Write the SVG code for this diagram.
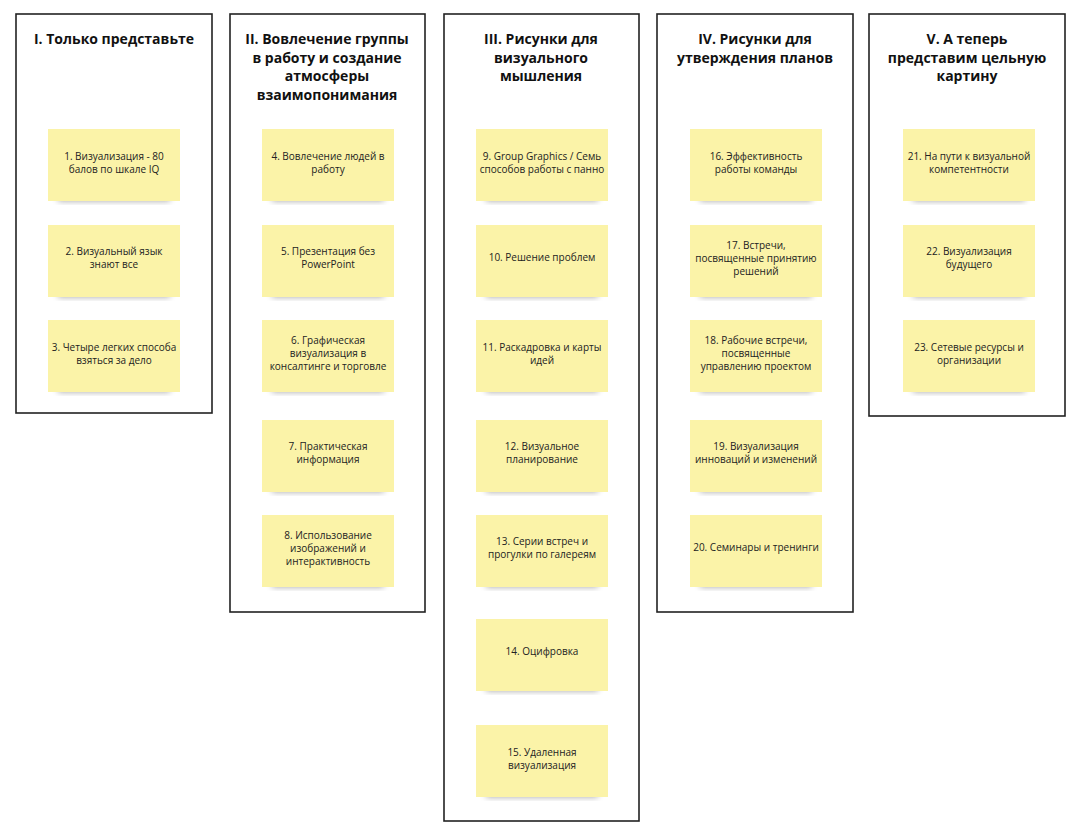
<svg xmlns="http://www.w3.org/2000/svg" width="1080" height="835" viewBox="0 0 1080 835">
<style>
.f{fill:#fff;stroke:#222;stroke-width:1.6}
.s{fill:#fbf3a8}
.sh{fill:#000;opacity:0.35;filter:url(#b)}
.t{font-family:"Open Sans","Liberation Sans",sans-serif;font-weight:bold;font-size:14px;fill:#111;text-anchor:middle}
.n{font-family:"Open Sans","Liberation Sans",sans-serif;font-size:10px;fill:#222;text-anchor:middle}
</style>
<defs>
<filter id="b" x="-20%" y="-50%" width="140%" height="200%"><feGaussianBlur stdDeviation="3"/></filter>
<g id="st"><rect class="sh" x="10" y="64" width="112" height="8"/><rect class="s" width="132" height="72"/></g>
</defs>
<rect width="1080" height="835" fill="#fff"/>
<g id="frames">
<rect class="f" x="16" y="14" width="196" height="399"/>
<rect class="f" x="230" y="14" width="195" height="598"/>
<rect class="f" x="444" y="14" width="195" height="807"/>
<rect class="f" x="657" y="14" width="196" height="598"/>
<rect class="f" x="869" y="14" width="196" height="402"/>
</g>
<g id="titles">
<text class="t" x="114" y="44">I. Только представьте</text>
<text class="t" x="327" y="44">II. Вовлечение группы<tspan x="327" dy="18.5">в работу и создание</tspan><tspan x="327" dy="18.5">атмосферы</tspan><tspan x="327" dy="18.5">взаимопонимания</tspan></text>
<text class="t" x="541" y="44">III. Рисунки для<tspan x="541" dy="18.5">визуального</tspan><tspan x="541" dy="18.5">мышления</tspan></text>
<text class="t" x="755" y="44">IV. Рисунки для<tspan x="755" dy="18.5">утверждения планов</tspan></text>
<text class="t" x="967" y="44">V. А теперь<tspan x="967" dy="18.5">представим цельную</tspan><tspan x="967" dy="18.5">картину</tspan></text>
</g>
<g id="n1"><use href="#st" x="48" y="129"/><text class="n" x="114" y="160">1. Визуализация - 80<tspan x="114" dy="13">балов по шкале IQ</tspan></text></g>
<g id="n2"><use href="#st" x="48" y="225"/><text class="n" x="114" y="255">2. Визуальный язык<tspan x="114" dy="13">знают все</tspan></text></g>
<g id="n3"><use href="#st" x="48" y="320"/><text class="n" x="114" y="351">3. Четыре легких способа<tspan x="114" dy="13">взяться за дело</tspan></text></g>
<g id="n4"><use href="#st" x="262" y="129"/><text class="n" x="328" y="160">4. Вовлечение людей в<tspan x="328" dy="13">работу</tspan></text></g>
<g id="n5"><use href="#st" x="262" y="225"/><text class="n" x="328" y="255">5. Презентация без<tspan x="328" dy="13">PowerPoint</tspan></text></g>
<g id="n6"><use href="#st" x="262" y="320"/><text class="n" x="328" y="344">6. Графическая<tspan x="328" dy="13">визуализация в</tspan><tspan x="328" dy="13">консалтинге и торговле</tspan></text></g>
<g id="n7"><use href="#st" x="262" y="420"/><text class="n" x="328" y="450">7. Практическая<tspan x="328" dy="13">информация</tspan></text></g>
<g id="n8"><use href="#st" x="262" y="515"/><text class="n" x="328" y="539">8. Использование<tspan x="328" dy="13">изображений и</tspan><tspan x="328" dy="13">интерактивность</tspan></text></g>
<g id="n9"><use href="#st" x="476" y="129"/><text class="n" x="542" y="160">9. Group Graphics / Семь<tspan x="542" dy="13">способов работы с панно</tspan></text></g>
<g id="n10"><use href="#st" x="476" y="225"/><text class="n" x="542" y="261">10. Решение проблем</text></g>
<g id="n11"><use href="#st" x="476" y="320"/><text class="n" x="542" y="351">11. Раскадровка и карты<tspan x="542" dy="13">идей</tspan></text></g>
<g id="n12"><use href="#st" x="476" y="420"/><text class="n" x="542" y="450">12. Визуальное<tspan x="542" dy="13">планирование</tspan></text></g>
<g id="n13"><use href="#st" x="476" y="515"/><text class="n" x="542" y="545">13. Серии встреч и<tspan x="542" dy="13">прогулки по галереям</tspan></text></g>
<g id="n14"><use href="#st" x="476" y="619"/><text class="n" x="542" y="655">14. Оцифровка</text></g>
<g id="n15"><use href="#st" x="476" y="725"/><text class="n" x="542" y="756">15. Удаленная<tspan x="542" dy="13">визуализация</tspan></text></g>
<g id="n16"><use href="#st" x="690" y="129"/><text class="n" x="756" y="160">16. Эффективность<tspan x="756" dy="13">работы команды</tspan></text></g>
<g id="n17"><use href="#st" x="690" y="225"/><text class="n" x="756" y="249">17. Встречи,<tspan x="756" dy="13">посвященные принятию</tspan><tspan x="756" dy="13">решений</tspan></text></g>
<g id="n18"><use href="#st" x="690" y="320"/><text class="n" x="756" y="344">18. Рабочие встречи,<tspan x="756" dy="13">посвященные</tspan><tspan x="756" dy="13">управлению проектом</tspan></text></g>
<g id="n19"><use href="#st" x="690" y="420"/><text class="n" x="756" y="450">19. Визуализация<tspan x="756" dy="13">инноваций и изменений</tspan></text></g>
<g id="n20"><use href="#st" x="690" y="515"/><text class="n" x="756" y="551">20. Семинары и тренинги</text></g>
<g id="n21"><use href="#st" x="903" y="129"/><text class="n" x="969" y="160">21. На пути к визуальной<tspan x="969" dy="13">компетентности</tspan></text></g>
<g id="n22"><use href="#st" x="903" y="225"/><text class="n" x="969" y="255">22. Визуализация<tspan x="969" dy="13">будущего</tspan></text></g>
<g id="n23"><use href="#st" x="903" y="320"/><text class="n" x="969" y="351">23. Сетевые ресурсы и<tspan x="969" dy="13">организации</tspan></text></g>
<g id="connectors"/>
</svg>
